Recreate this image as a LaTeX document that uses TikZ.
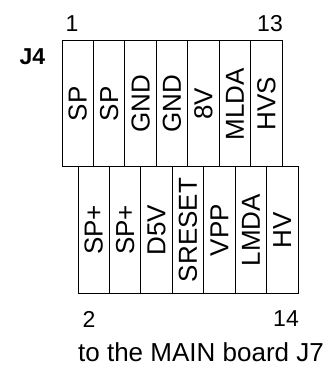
\documentclass[tikz,border=0pt]{standalone}
\usepackage{fontspec}
\setmainfont{Liberation Sans}
\usetikzlibrary{positioning}
\begin{document}
\begin{tikzpicture}[x=1pt, y=-1pt,
			pinCell/.style={shape=rectangle, draw=black, line width=1pt, rotate=90, minimum width=126pt, minimum height=31.43pt, inner sep=0pt, outer sep=0pt, font=\fontsize{26}{30}\selectfont},
			pinNum/.style={inner sep=0pt, font=\fontsize{23}{27}\selectfont},
			connName/.style={inner sep=0pt, font=\fontsize{23}{27}\selectfont\bfseries},
			boardNote/.style={inner sep=0pt, font=\fontsize{26}{30}\selectfont}]
\useasboundingbox (0,0) rectangle (333,371);
% odd pins, upper row
\foreach \lbl [count=\i] in {SP,SP,GND,GND,8V,MLDA,HVS}
  \node [pinCell] (pinOdd\i) at ({62+31.43*(\i-0.5)},104) {\lbl};
% even pins, lower row
\foreach \lbl [count=\i] in {SP+,SP+,D5V,SRESET,VPP,LMDA,HV}
  \node [pinCell] (pinEven\i) at ({78+31.43*(\i-0.5)},230) {\lbl};
\node [pinNum] (numOne) at (72,23.5) {1};
\node [pinNum] (numThirteen) at (270,23.5) {13};
\node [pinNum] (numTwo) at (89,319) {2};
\node [pinNum] (numFourteen) at (286,319) {14};
\node [connName] (jFour) at (32.5,56.5) {J4};
\node [boardNote] (mainBoard) at (201,352.5) {to the MAIN board J7};
\end{tikzpicture}
\end{document}
